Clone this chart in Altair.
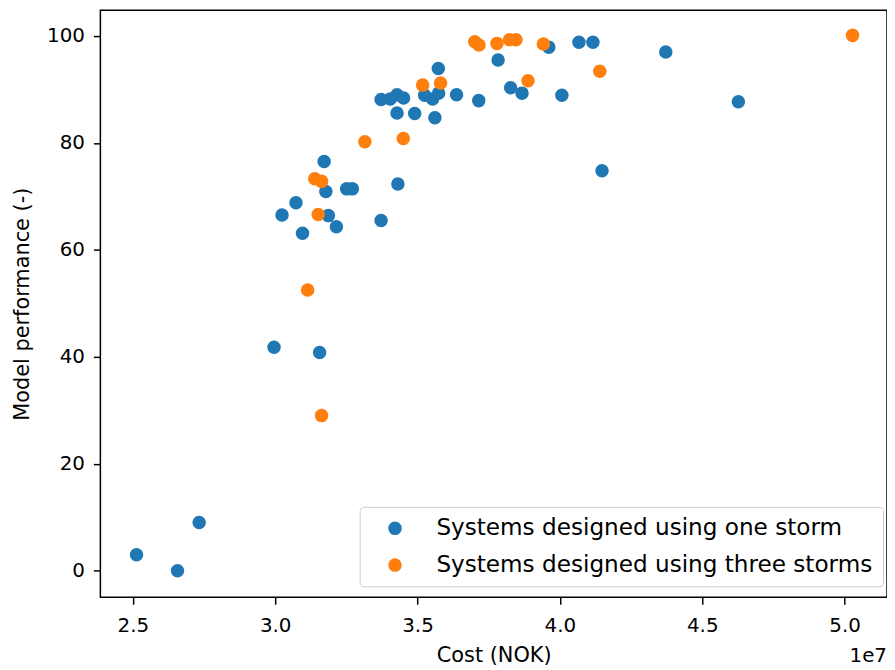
import altair as alt
import pandas as pd

# Cost in units of 1e7 NOK, model performance (-)
one_storm_cost = [2.513, 2.657, 2.733, 2.996, 3.156, 3.024, 3.073, 3.096, 3.172, 3.178,
                  3.187, 3.215, 3.251, 3.271, 3.372, 3.431, 3.372, 3.404, 3.428, 3.451,
                  3.428, 3.490, 3.525, 3.553, 3.574, 3.561, 3.573, 3.637, 3.715, 3.783,
                  3.827, 3.867, 3.961, 4.007, 4.067, 4.116, 4.148, 4.372, 4.627]
one_storm_perf = [3.0, 0.0, 9.0, 41.8, 40.8, 66.5, 68.8, 63.1, 76.5, 70.9,
                  66.4, 64.3, 71.4, 71.4, 65.5, 72.3, 88.1, 88.2, 89.0, 88.4,
                  85.6, 85.5, 88.9, 88.2, 89.3, 84.7, 93.9, 89.0, 87.9, 95.5,
                  90.3, 89.3, 97.9, 88.9, 98.8, 98.8, 74.8, 97.0, 87.7]

three_storm_cost = [3.163, 3.114, 3.151, 3.139, 3.163, 3.315, 3.450, 3.518, 3.581,
                    3.701, 3.716, 3.779, 3.823, 3.846, 3.888, 3.942, 4.140, 5.028]
three_storm_perf = [29.0, 52.5, 66.6, 73.3, 72.8, 80.2, 80.8, 90.8, 91.2,
                    98.9, 98.3, 98.6, 99.3, 99.3, 91.6, 98.5, 93.4, 100.1]

series_names = ["Systems designed using one storm", "Systems designed using three storms"]
series_colors = ["#1f77b4", "#ff7f0e"]
x_ticks = [2.5, 3.0, 3.5, 4.0, 4.5, 5.0]
y_ticks = [0, 20, 40, 60, 80, 100]

df = pd.concat([
    pd.DataFrame({"cost": one_storm_cost, "perf": one_storm_perf, "series": series_names[0]}),
    pd.DataFrame({"cost": three_storm_cost, "perf": three_storm_perf, "series": series_names[1]}),
], ignore_index=True)

W, H = 792, 591
FONT = "DejaVu Sans"

points = alt.Chart(df).mark_circle(size=185, opacity=1).encode(
    x=alt.X("cost:Q",
            scale=alt.Scale(domain=[2.386, 5.149], nice=False, zero=False),
            axis=alt.Axis(values=x_ticks, format=".1f", title="Cost (NOK)",
                          titleY=59, titleBaseline="middle", labelPadding=11)),
    y=alt.Y("perf:Q",
            scale=alt.Scale(domain=[-4.96, 104.8], nice=False, zero=False),
            axis=alt.Axis(values=y_ticks, format="d", title="Model performance (-)",
                          titleX=-78, titleBaseline="middle", titleAngle=270,
                          labelPadding=9)),
    color=alt.Color("series:N",
                    scale=alt.Scale(domain=series_names, range=series_colors),
                    legend=alt.Legend(title=None, orient="none", legendX=261, legendY=500,
                                      labelFontSize=23.3, labelFont=FONT, labelColor="black",
                                      symbolType="circle", symbolSize=185, symbolStrokeWidth=0,
                                      symbolOpacity=1, symbolOffset=14, labelOffset=30,
                                      rowPadding=13, padding=10, fillColor="white",
                                      strokeColor="#cccccc", cornerRadius=4,
                                      labelLimit=600)),
)

offset_text = alt.Chart(pd.DataFrame({"t": ["1e7"]})).mark_text(
    font=FONT, fontSize=20, align="right", baseline="middle", color="black"
).encode(x=alt.value(W), y=alt.value(H + 59), text="t:N")

chart = alt.layer(points, offset_text).properties(
    width=W, height=H,
    autosize=alt.AutoSizeParams(type="none"),
    padding={"left": 93, "top": 0, "right": 0, "bottom": 70},
).configure_view(
    stroke="black", strokeWidth=1.5
).configure_axis(
    grid=False, domain=False, tickColor="black", tickWidth=1.5, tickSize=7,
    labelFont=FONT, labelFontSize=20, labelColor="black",
    titleFont=FONT, titleFontSize=21, titleColor="black", titleFontWeight="normal",
)

chart.save("out.html", embed_options={"renderer": "svg", "actions": False})
